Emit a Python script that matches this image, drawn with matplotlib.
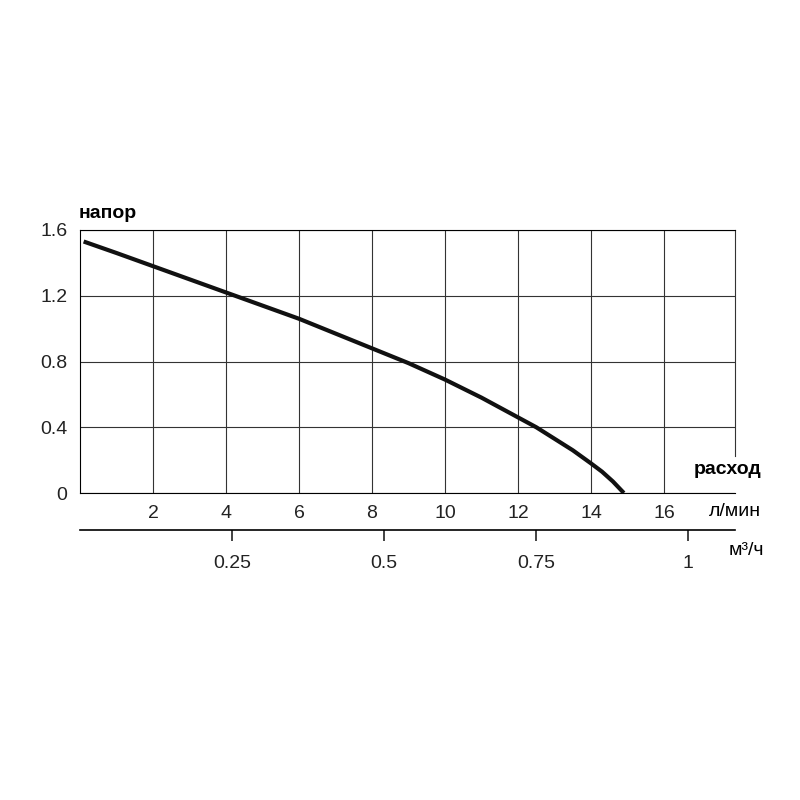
import matplotlib
matplotlib.use("Agg")
import matplotlib.pyplot as plt

plt.rcParams["font.family"] = ["Liberation Sans", "DejaVu Sans"]

# кривая напора (л/мин, м)
flow_lmin = [0.1, 1, 2, 3, 4, 5, 6, 7, 8, 9, 10, 11, 12, 12.5, 13, 13.5, 14, 14.3, 14.6, 14.9]
head = [1.53, 1.46, 1.38, 1.30, 1.22, 1.14, 1.06, 0.97, 0.88, 0.79, 0.69, 0.58, 0.46, 0.40, 0.33, 0.26, 0.18, 0.13, 0.07, 0.0]

x_ticks = [2, 4, 6, 8, 10, 12, 14, 16]
y_ticks = [0, 0.4, 0.8, 1.2, 1.6]
m3h_ticks = [0.25, 0.5, 0.75, 1]

fig = plt.figure(figsize=(8, 8), dpi=100)
ax = fig.add_axes([0.1, 0.38375, 0.819, 0.32875])
ax.plot(flow_lmin, head, color="#111111", lw=3, solid_capstyle="butt")
ax.set_xlim(0, 17.95)
ax.set_ylim(0, 1.6)
ax.set_xticks(x_ticks)
ax.set_yticks(y_ticks)
ax.set_yticklabels(["0", "0.4", "0.8", "1.2", "1.6"])
ax.grid(True, color="#333333", lw=0.8)
for s in ["top", "left", "bottom"]:
    ax.spines[s].set_linewidth(0.8)
ax.spines["right"].set_visible(False)
ax.plot([1, 1], [0.14, 1], transform=ax.transAxes, color="#333333", lw=0.8, clip_on=False)
ax.tick_params(length=0, labelsize=14, pad=9, colors="#222222")
ax.text(-0.002, 1.03, "напор", transform=ax.transAxes, fontsize=14, fontweight="bold", ha="left", va="bottom")
ax.text(1.04, 0.09, "расход", transform=ax.transAxes, fontsize=14, fontweight="bold", ha="right", va="center")
ax.text(1.04, -0.07, "л/мин", transform=ax.transAxes, fontsize=14, ha="right", va="center")

# вторая шкала м³/ч
ax2 = fig.add_axes([0.1, 0.3375, 0.819, 0.0001])
ax2.set_xlim(0, 17.95)
ax2.set_yticks([])
for s in ["top", "left", "right"]:
    ax2.spines[s].set_visible(False)
ax2.spines["bottom"].set_linewidth(1.2)
ax2.set_xticks([v * 1000 / 60 for v in m3h_ticks])
ax2.set_xticklabels(["0.25", "0.5", "0.75", "1"])
ax2.tick_params(direction="out", length=8, width=1.2, labelsize=14, pad=10, colors="#222222")
fig.text(0.955, 0.312, "м³/ч", fontsize=14, ha="right", va="center")

fig.savefig("out.png")
